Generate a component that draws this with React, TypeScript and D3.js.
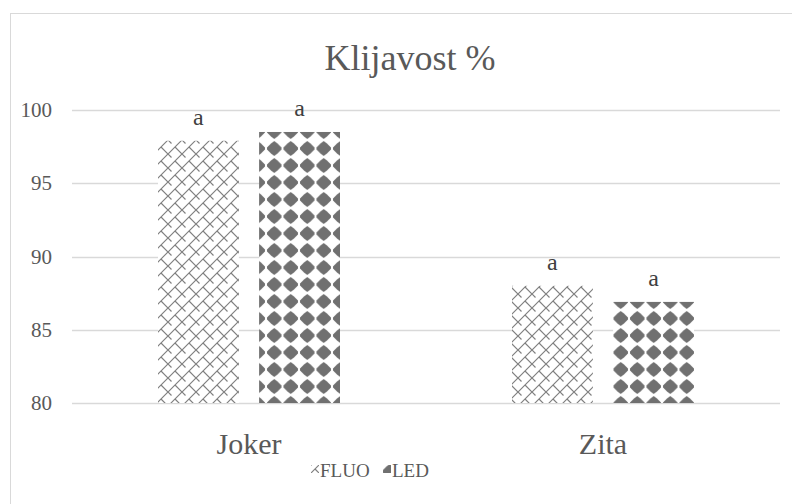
import { useRef, useEffect } from 'react';
import * as d3 from 'd3';

const categories = ['Joker', 'Zita'];
const seriesNames = ['FLUO', 'LED'];
const fluoValues = [97.9, 88.0];
const ledValues = [98.5, 86.9];
const dataLabels = [['a', 'a'], ['a', 'a']];
const yTicks = [80, 85, 90, 95, 100];

const FONT = "'Liberation Serif', 'DejaVu Serif', serif";

export default function App() {
  const svgRef = useRef<SVGSVGElement>(null);

  useEffect(() => {
    if (!svgRef.current) return;
    const root = d3.select(svgRef.current);
    root.selectAll('*').remove();

    const W = 792, H = 504;
    const left = 72, right = 780, top = 110, bottom = 403;

    // Patterns
    const defs = root.append('defs');
    const brick = defs.append('pattern')
      .attr('id', 'pat-fluo')
      .attr('patternUnits', 'userSpaceOnUse')
      .attr('width', 14).attr('height', 14);
    brick.append('rect').attr('width', 14).attr('height', 14).attr('fill', '#fff');
    brick.append('path')
      .attr('d', 'M-1,15 L15,-1 M-1,1 L1,-1 M13,15 L15,13 M7,7 L14,14 M0,0 L3.5,3.5')
      .attr('stroke', '#808080').attr('stroke-width', 1.2)
      .attr('fill', 'none');

    const dots = defs.append('pattern')
      .attr('id', 'pat-led')
      .attr('patternUnits', 'userSpaceOnUse')
      .attr('x', 2).attr('y', 4)
      .attr('width', 16.5).attr('height', 17);
    dots.append('rect').attr('width', 16.5).attr('height', 17).attr('fill', '#fff');
    dots.append('path')
      .attr('d', 'M8.25,1 L11.5,3.5 L15.5,7.5 L15.5,9.5 L11.5,13.5 L8.25,16 L5,13.5 L1,9.5 L1,7.5 L5,3.5 Z')
      .attr('fill', '#707070');

    // Border
    root.append('rect')
      .attr('x', 10.5).attr('y', 13.5)
      .attr('width', W).attr('height', H)
      .attr('fill', '#fff')
      .attr('stroke', '#d9d9d9');

    const y = d3.scaleLinear().domain([80, 100]).range([bottom, top]);
    const x0 = d3.scaleBand().domain(categories).range([left, right]);
    const x1 = d3.scaleBand().domain(seriesNames)
      .range([x0.bandwidth() / 2 - 91, x0.bandwidth() / 2 + 91])
      .paddingInner(0.2).paddingOuter(0);

    // Gridlines
    root.append('g').selectAll('line')
      .data(yTicks)
      .join('line')
      .attr('x1', left).attr('x2', right)
      .attr('y1', d => Math.round(y(d)) + 0.5)
      .attr('y2', d => Math.round(y(d)) + 0.5)
      .attr('stroke', '#d9d9d9').attr('stroke-width', 1.3);

    const txt = (sel: any, size: number, fill: string) =>
      sel.style('font-family', FONT).style('font-size', `${size}px`).attr('fill', fill);

    // Y tick labels
    txt(root.append('g').selectAll('text')
      .data(yTicks)
      .join('text')
      .attr('x', 52).attr('y', d => y(d) + 7)
      .attr('text-anchor', 'end'), 21, '#595959')
      .text((d: number) => d);

    // Bars
    const series = [fluoValues, ledValues];
    const fills = ['url(#pat-fluo)', 'url(#pat-led)'];
    series.forEach((vals, si) => {
      const g = root.append('g');
      g.selectAll('rect')
        .data(vals)
        .join('rect')
        .attr('x', (_, i) => (x0(categories[i]) || 0) + (x1(seriesNames[si]) || 0))
        .attr('y', d => y(d))
        .attr('width', x1.bandwidth())
        .attr('height', d => bottom - y(d))
        .attr('fill', fills[si]);
      txt(g.selectAll('text')
        .data(vals)
        .join('text')
        .attr('x', (_, i) => (x0(categories[i]) || 0) + (x1(seriesNames[si]) || 0) + x1.bandwidth() / 2)
        .attr('y', d => y(d) - 16)
        .attr('text-anchor', 'middle'), 24, '#404040')
        .text((_: number, i: number) => dataLabels[i][si]);
    });

    // Category labels
    txt(root.append('g').selectAll('text')
      .data(categories)
      .join('text')
      .attr('x', d => (x0(d) || 0) + x0.bandwidth() / 2)
      .attr('y', 454)
      .attr('text-anchor', 'middle'), 30, '#595959')
      .text((d: string) => d);

    // Title
    txt(root.append('text')
      .attr('x', 410).attr('y', 70)
      .attr('text-anchor', 'middle'), 36, '#595959')
      .text('Klijavost %');

    // Legend
    const legend = root.append('g');
    const legendX = [311, 383];
    seriesNames.forEach((name, i) => {
      legend.append('rect')
        .attr('x', legendX[i]).attr('y', 465)
        .attr('width', 8).attr('height', 8)
        .attr('fill', fills[i]);
      txt(legend.append('text')
        .attr('x', legendX[i] + 9).attr('y', 477), 19, '#595959')
        .text(name);
    });
  }, []);

  return (
    <svg ref={svgRef} width={792} height={504}
      style={{ position: 'fixed', left: 0, top: 0, background: '#fff' }} />
  );
}
